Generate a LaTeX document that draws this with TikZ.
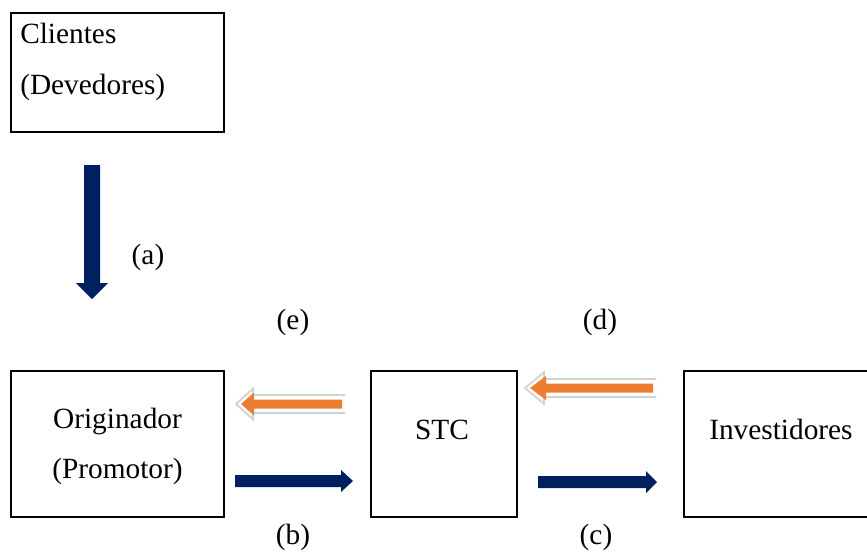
\documentclass[tikz,border=0pt]{standalone}
\usepackage{fontspec}
\setmainfont{Liberation Serif}
\definecolor{navy}{HTML}{002060}
\definecolor{orng}{HTML}{ED7D31}
\definecolor{rimgray}{HTML}{D2D2D2}
\begin{document}
\begin{tikzpicture}[x=0.75pt,y=-0.75pt,
  box/.style={draw=black, line width=1.1pt, inner sep=0pt, outer sep=0pt},
  txt/.style={font=\fontsize{22}{26}\selectfont, inner sep=0pt},
  navyarrow/.style={fill=navy},
  rim/.style={draw=rimgray, line width=1.3pt, fill=white},
  orangearrow/.style={fill=orng}]
  \clip (0,0) rectangle (867,551);
  \fill[white] (0,0) rectangle (867,551);

  % boxes
  \node[box, minimum width=159.75pt, minimum height=89.25pt] (cli) at (117.5,72.5) {};
  \node[box, minimum width=159.75pt, minimum height=109.5pt] (ori) at (117.5,444) {};
  \node[box, minimum width=109.5pt, minimum height=109.5pt] (stc) at (444,444) {};
  \node[box, minimum width=162pt, minimum height=109.5pt] (inv) at (792,444) {};

  % box texts
  \node[txt, anchor=base west] (cliA) at (20,43) {Clientes};
  \node[txt, anchor=base west] (cliB) at (20,94) {(Devedores)};
  \node[txt, anchor=base] (oriA) at (117.5,428) {Originador};
  \node[txt, anchor=base] (oriB) at (117.5,478) {(Promotor)};
  \node[txt, anchor=base] (stcT) at (442,439) {STC};
  \node[txt, anchor=base west] (invT) at (709,439) {Investidores};

  % flow labels
  \node[txt] (la) at (148,257) {(a)};
  \node[txt] (le) at (293,322) {(e)};
  \node[txt] (ld) at (600,322) {(d)};
  \node[txt] (lb) at (293,537) {(b)};
  \node[txt] (lc) at (596,537) {(c)};

  % (a) downward block arrow
  \fill[navyarrow] (84,165) -- (100,165) -- (100,283) -- (108,283) -- (92,299)
    -- (76,283) -- (84,283) -- cycle;

  % (b) and (c) rightward block arrows
  \fill[navyarrow] (235,475) -- (341,475) -- (341,470) -- (353,481) -- (341,492)
    -- (341,487) -- (235,487) -- cycle;
  \fill[navyarrow] (538,476) -- (646,476) -- (646,471) -- (657,482) -- (646,493)
    -- (646,488) -- (538,488) -- cycle;

  % (e) leftward outlined orange arrow
  \filldraw[rim] (345,395) -- (253,395) -- (253,388.5) -- (236,404) -- (253,419.5)
    -- (253,413) -- (345,413);
  \fill[orangearrow] (342,399.5) -- (254,399.5) -- (254,392.5) -- (241,404)
    -- (254,415.5) -- (254,408.5) -- (342,408.5) -- cycle;

  % (d) leftward outlined orange arrow
  \filldraw[rim] (656,379) -- (544,379) -- (544,372) -- (525,388) -- (544,404)
    -- (544,397) -- (656,397);
  \fill[orangearrow] (653,383.5) -- (546,383.5) -- (546,376) -- (530,388)
    -- (546,400) -- (546,392.5) -- (653,392.5) -- cycle;
\end{tikzpicture}
\end{document}
